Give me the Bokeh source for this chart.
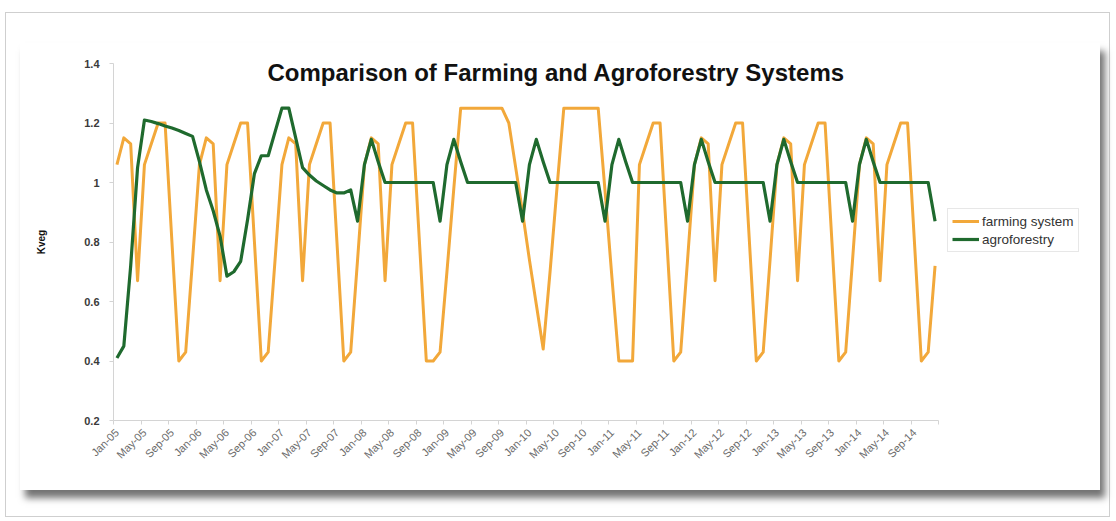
import math
from bokeh.plotting import figure
from bokeh.layouts import column
from bokeh.models import Range1d, FixedTicker, NumeralTickFormatter, Label, Legend, LegendItem
from bokeh.embed import file_html
from bokeh.resources import INLINE

# ---------------- data ----------------
tick_labels = ["Jan-05", "May-05", "Sep-05", "Jan-06", "May-06", "Sep-06",
               "Jan-07", "May-07", "Sep-07", "Jan-08", "May-08", "Sep-08",
               "Jan-09", "May-09", "Sep-09", "Jan-10", "May-10", "Sep-10",
               "Jan-11", "May-11", "Sep-11", "Jan-12", "May-12", "Sep-12",
               "Jan-13", "May-13", "Sep-13", "Jan-14", "May-14", "Sep-14"]

farming_system = [
    1.06, 1.15, 1.13, 0.67, 1.06, 1.13, 1.20, 1.20, 0.80, 0.40, 0.43, 0.74,  # 2005
    1.06, 1.15, 1.13, 0.67, 1.06, 1.13, 1.20, 1.20, 0.80, 0.40, 0.43, 0.74,  # 2006
    1.06, 1.15, 1.13, 0.67, 1.06, 1.13, 1.20, 1.20, 0.80, 0.40, 0.43, 0.74,  # 2007
    1.06, 1.15, 1.13, 0.67, 1.06, 1.13, 1.20, 1.20, 0.80, 0.40, 0.40, 0.43,  # 2008
    0.70, 0.98, 1.25, 1.25, 1.25, 1.25, 1.25, 1.25, 1.25, 1.20, 1.05, 0.90,  # 2009
    0.74, 0.59, 0.44, 0.70, 0.98, 1.25, 1.25, 1.25, 1.25, 1.25, 1.25, 0.97,  # 2010
    0.68, 0.40, 0.40, 0.40, 1.06, 1.13, 1.20, 1.20, 0.80, 0.40, 0.43, 0.74,  # 2011
    1.06, 1.15, 1.13, 0.67, 1.06, 1.13, 1.20, 1.20, 0.80, 0.40, 0.43, 0.74,  # 2012
    1.06, 1.15, 1.13, 0.67, 1.06, 1.13, 1.20, 1.20, 0.80, 0.40, 0.43, 0.74,  # 2013
    1.06, 1.15, 1.13, 0.67, 1.06, 1.13, 1.20, 1.20, 0.80, 0.40, 0.43, 0.72,  # 2014
]

agroforestry = [
    0.41, 0.45, 0.72, 1.05, 1.21, 1.205, 1.198, 1.19, 1.183, 1.175, 1.165, 1.155,  # 2005
    1.07, 0.975, 0.905, 0.82, 0.685, 0.70, 0.735, 0.875, 1.03, 1.09, 1.09, 1.17,   # 2006
    1.25, 1.25, 1.15, 1.05, 1.025, 1.005, 0.99, 0.975, 0.965, 0.965, 0.975, 0.87,  # 2007
    1.06, 1.145, 1.07, 1.00, 1.00, 1.00, 1.00, 1.00, 1.00, 1.00, 1.00, 0.87,       # 2008
    1.06, 1.145, 1.07, 1.00, 1.00, 1.00, 1.00, 1.00, 1.00, 1.00, 1.00, 0.87,       # 2009
    1.06, 1.145, 1.07, 1.00, 1.00, 1.00, 1.00, 1.00, 1.00, 1.00, 1.00, 0.87,       # 2010
    1.06, 1.145, 1.07, 1.00, 1.00, 1.00, 1.00, 1.00, 1.00, 1.00, 1.00, 0.87,       # 2011
    1.06, 1.145, 1.07, 1.00, 1.00, 1.00, 1.00, 1.00, 1.00, 1.00, 1.00, 0.87,       # 2012
    1.06, 1.145, 1.07, 1.00, 1.00, 1.00, 1.00, 1.00, 1.00, 1.00, 1.00, 0.87,       # 2013
    1.06, 1.145, 1.07, 1.00, 1.00, 1.00, 1.00, 1.00, 1.00, 1.00, 1.00, 0.87,       # 2014
]

y_ticks = [0.2, 0.4, 0.6, 0.8, 1.0, 1.2, 1.4]

# ---------------- derived ----------------
months = list(range(len(farming_system)))
label_step = 4
tick_positions = [k * label_step for k in range(len(tick_labels))]
boundaries = [k * label_step - 0.5 for k in range(len(tick_labels) + 1)]
x_start, x_end = -0.5, len(months) - 0.5

FONT = "Liberation Sans"
ORANGE = "#F2A83A"
GREEN = "#1F6A2E"

# frame: 976 px wide, 6.875 px per month -> data axis fills the left 825 px,
# the remaining room on the right holds the legend (as in the original)
FRAME_W = 976
PX_PER_MONTH = 825 / len(months)
x_view_end = x_start + FRAME_W / PX_PER_MONTH

p = figure(width=1080, height=447, output_backend="svg", toolbar_location=None,
           x_range=Range1d(x_start, x_view_end), y_range=Range1d(0.2, 1.4),
           min_border_left=93, min_border_right=1080 - 93 - FRAME_W,
           min_border_top=20, min_border_bottom=70)
p.outline_line_color = None
p.grid.visible = False
p.background_fill_color = "white"
p.border_fill_color = "white"

r1 = p.line(months, farming_system, line_color=ORANGE, line_width=3,
            line_join="round")
r2 = p.line(months, agroforestry, line_color=GREEN, line_width=3.2,
            line_join="round")

# y axis
p.yaxis.ticker = FixedTicker(ticks=y_ticks, minor_ticks=[])
p.yaxis.formatter = NumeralTickFormatter(format="0.[0]")
p.yaxis.axis_line_color = "#d4d4d4"
p.yaxis.major_tick_line_color = "#d4d4d4"
p.yaxis.major_tick_out = 4
p.yaxis.major_tick_in = 0
p.yaxis.major_label_text_font = FONT
p.yaxis.major_label_text_font_size = "11px"
p.yaxis.major_label_text_font_style = "bold"
p.yaxis.major_label_text_color = "#3a3a3a"
p.yaxis.major_label_standoff = 10
p.yaxis.axis_label = "Kveg"
p.yaxis.axis_label_text_font = FONT
p.yaxis.axis_label_text_font_size = "10px"
p.yaxis.axis_label_text_font_style = "bold"
p.yaxis.axis_label_text_color = "#111111"
p.yaxis.axis_label_standoff = 34

# x axis
p.xaxis.bounds = (x_start, x_end)
p.xaxis.ticker = FixedTicker(ticks=tick_positions, minor_ticks=boundaries)
p.xaxis.major_label_overrides = {pos: lab for pos, lab in zip(tick_positions, tick_labels)}
p.xaxis.major_label_orientation = math.pi / 4
p.xaxis.axis_line_color = "#d4d4d4"
p.xaxis.major_tick_line_color = None
p.xaxis.minor_tick_line_color = "#d4d4d4"
p.xaxis.minor_tick_out = 4
p.xaxis.minor_tick_in = 0
p.xaxis.major_label_text_font = FONT
p.xaxis.major_label_text_font_size = "11px"
p.xaxis.major_label_text_color = "#6a6a6a"
p.xaxis.major_label_standoff = 4

# title inside plot area
p.add_layout(Label(x=63.9, y=1.37,
                   text="Comparison of Farming and Agroforestry Systems",
                   text_align="center", text_baseline="middle",
                   text_font=FONT, text_font_style="bold",
                   text_font_size="24px", text_color="#111111"))

legend = Legend(items=[LegendItem(label="farming system", renderers=[r1]),
                       LegendItem(label="agroforestry", renderers=[r2])],
                location=(834, 168), orientation="vertical",
                label_text_font=FONT, label_text_font_size="13.5px",
                label_text_color="#333333",
                border_line_color="#d0d0d0", border_line_width=1,
                background_fill_color="white",
                glyph_width=27, glyph_height=16, label_height=16,
                label_standoff=3, spacing=2, padding=4, margin=0)
p.add_layout(legend, "center")

p.margin = (30, 0, 0, 14)
p.styles = {"box-shadow": "5px 8px 7px rgba(0,0,0,0.55)"}

layout = column(p, width=1105, height=505,
                styles={"border": "1px solid #cfcfcf", "box-sizing": "border-box"})
layout.margin = (12, 0, 0, 5)

with open("out.html", "w") as f:
    f.write(file_html(layout, INLINE))
